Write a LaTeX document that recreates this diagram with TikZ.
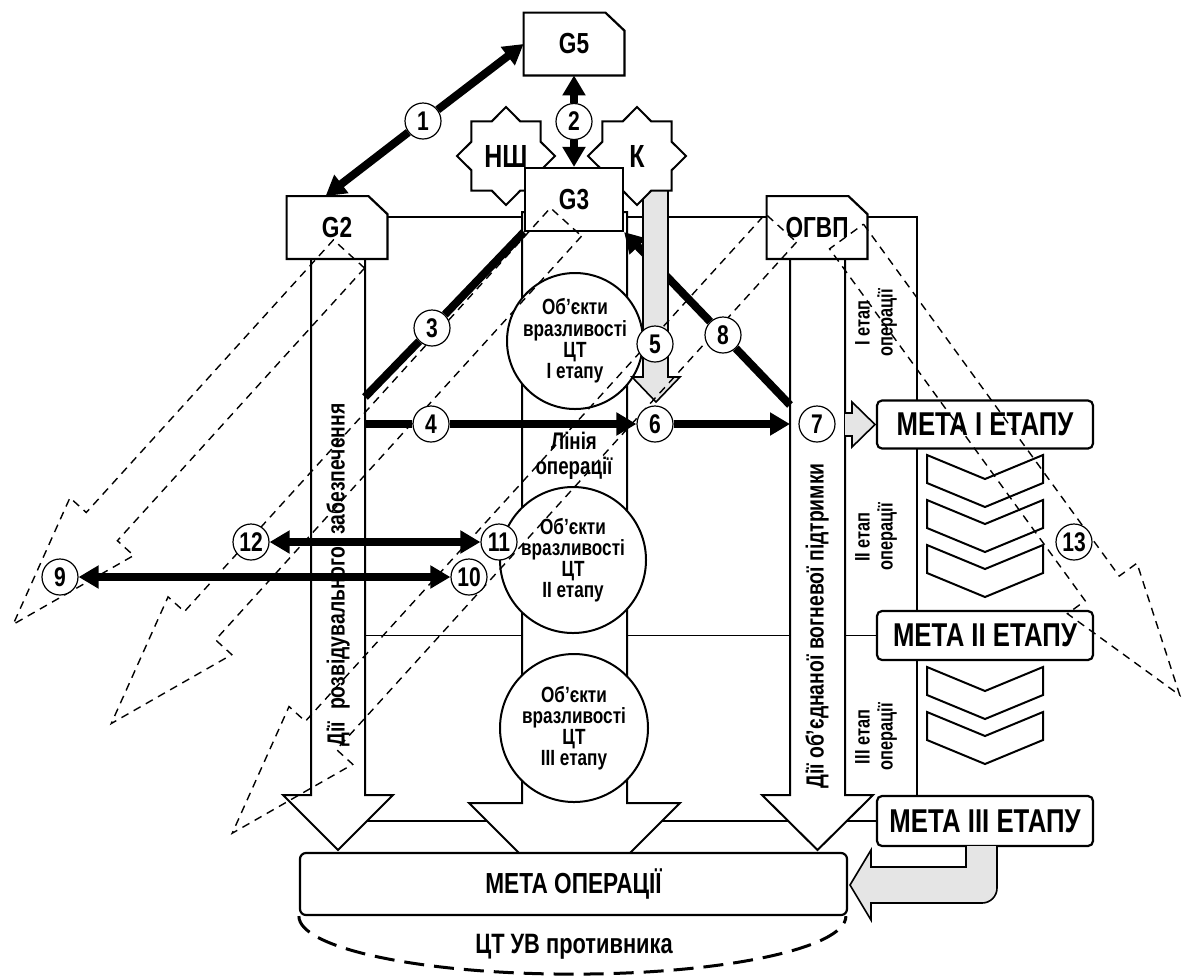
\documentclass[tikz,border=0pt]{standalone}
\usepackage{fontspec}
\setmainfont{Liberation Sans}[FakeStretch=0.78]
\usetikzlibrary{positioning,shapes,arrows.meta,calc}
\pgfdeclarelayer{back}
\pgfdeclarelayer{bolts}
\pgfdeclarelayer{front}
\pgfsetlayers{back,main,bolts,front}
% dashed block arrow: tail point, direction, shaft length
\newcommand*{\boltarrow}[3]{%
  \draw[boltline, shift={(#1)}, rotate=#2]
    (0,-21) -- (#3,-21) -- (#3,-43) -- ({#3+132},0) -- (#3,43) -- (#3,21) -- (0,21) -- cycle;}

\begin{document}
\begin{tikzpicture}[x=0.5pt, y=-0.5pt, font=\bfseries, >={Triangle[length=10pt,width=11pt]},
    thinline/.style={line width=0.8pt},
    cutbox/.style={minimum width=50pt, minimum height=31pt, inner sep=0pt, font=\fontsize{14.5}{16}\selectfont\bfseries},
    metabox/.style={draw, line width=1.1pt, rounded corners=2.5pt, fill=white, minimum width=108pt, minimum height=24pt, inner sep=0pt, font=\fontsize{16.5}{18}\selectfont\bfseries},
    objcircle/.style={circle, draw, line width=1pt, fill=white, align=center, inner sep=0pt, font=\fontsize{11}{10.6}\selectfont\bfseries},
    numc/.style={circle, draw, line width=0.6pt, fill=white, inner sep=0pt, minimum size=18pt, font=\fontsize{13.5}{14}\selectfont\bfseries},
    starbox/.style={star, star points=8, star point ratio=1.31, draw, line width=1pt, fill=white, minimum size=49pt, inner sep=0pt, font=\fontsize{16}{17}\selectfont\bfseries},
    blockarrow/.style={draw, line width=1pt, fill=white},
    greyarrow/.style={draw, line width=0.8pt, fill=black!10},
    thickarr/.style={line width=4pt},
    chev/.style={draw, line width=1pt},
    boltline/.style={line width=0.7pt, dash pattern=on 4pt off 3pt},
    sidelabel/.style={rotate=90, inner sep=0pt, font=\fontsize{12.4}{14}\selectfont\bfseries},
    stagelabel/.style={rotate=90, align=center, inner sep=0pt, font=\fontsize{10.5}{11.5}\selectfont\bfseries}]
    \useasboundingbox (0,0) rectangle (1182,976);

    % numbered marks, kept on top of everything
    \begin{pgfonlayer}{front}
    \node[numc] (n1) at (423,121) {1};
    \node[numc] (n2) at (574,121.5) {2};
    \node[numc] (n3) at (432,328) {3};
    \node[numc] (n4) at (431,424) {4};
    \node[numc] (n5) at (655,344) {5};
    \node[numc] (n6) at (655,424) {6};
    \node[numc] (n7) at (817,424) {7};
    \node[numc] (n8) at (723,335) {8};
    \node[numc] (n9) at (60,577) {9};
    \node[numc] (n10) at (469,577) {10};
    \node[numc] (n11) at (499,542) {11};
    \node[numc] (n12) at (251,542) {12};
    \node[numc] (n13) at (1074,542) {13};
    \end{pgfonlayer}

    % command posts
    \node[cutbox] (g5) at (574,44) {G5};
    \node[cutbox] (g2) at (337,227.5) {G2};
    \node[cutbox] (ogvp) at (817,227.5) {ОГВП};
    \foreach \b in {g5,g2,ogvp}
        \draw[line width=1.1pt] (\b.south west) -- (\b.north west) -- ([xshift=-9.5pt]\b.north east)
            -- ([yshift=-9pt]\b.north east) -- (\b.south east) -- cycle;
    \node[cutbox, draw, line width=1.1pt, fill=white, minimum width=49pt, minimum height=31.5pt] (g3) at (574,199.5) {G3};

    % goals
    \node[metabox] (meta1) at (985,424.5) {МЕТА І ЕТАПУ};
    \node[metabox, minimum height=24.5pt] (meta2) at (985,635.5) {МЕТА ІІ ЕТАПУ};
    \node[metabox, minimum height=25pt] (meta3) at (985,821) {МЕТА ІІІ ЕТАПУ};
    \node[metabox, minimum width=273.5pt, minimum height=31pt, rounded corners=3pt,
        font=\fontsize{14.5}{16}\selectfont\bfseries] (metaop) at (573.5,884) {МЕТА ОПЕРАЦІЇ};
    \draw[line width=1.5pt, dash pattern=on 10pt off 5pt] (metaop.south west)
        arc[start angle=180, end angle=360, x radius=136.75pt, y radius=29pt];
    \node[font=\fontsize{14}{15}\selectfont\bfseries] (ctuv) at (574,947) {ЦТ УВ противника};

    \coordinate (frametop) at (917,217);
    \coordinate (rozv-3) at (365,397);
    \coordinate (rozv-4) at (365,424);
    \coordinate (vohn-7) at (790,424);
    \coordinate (vohn-8) at (790,405);

    \begin{pgfonlayer}{back}
    \draw[thinline] (g2.east |- frametop) -- (ogvp.west |- frametop);
    \draw[thinline] (ogvp.east |- frametop) -- (frametop) -- (frametop |- meta3.north);
    \draw[thinline] (rozv-4 |- meta2.west) -- (meta2.west);
    \draw[thinline] (rozv-4 |- meta3.west) -- (meta3.west);

    % wide arrows of the three lines of action
    \draw[blockarrow] (311,259) -- (311,795) -- (283,795) -- (338,850) -- (393,795) -- (365,795) -- (365,259);
    \draw[blockarrow] (522,212) -- (522,803) -- (469,803) -- (574.5,908.5) -- (680,803) -- (627,803) -- (627,212) -- cycle;
    \draw[blockarrow] (790,259) -- (790,795) -- (762,795) -- (817.5,850) -- (873,795) -- (845,795) -- (845,259);
    \node[sidelabel] (rozv) at (338,575) {Дії\hspace{6pt}розвідувального\hspace{6pt}забезпечення};
    \node[sidelabel] (vohn) at (817,626) {Дії об’єднаної вогневої підтримки};

    \node[objcircle, minimum size=68pt] (obj1) at (575,341) {Об’єкти\\вразливості\\ЦТ\\І етапу};
    \node[objcircle, minimum size=73pt] (obj2) at (573,560) {Об’єкти\\вразливості\\ЦТ\\ІІ етапу};
    \node[objcircle, minimum size=74pt] (obj3) at (574,728) {Об’єкти\\вразливості\\ЦТ\\ІІІ етапу};
    \node[align=center, inner sep=0pt, font=\fontsize{12}{12.5}\selectfont\bfseries] (lineop) at (574,456) {Лінія\\операції};

    \draw[thickarr] (vohn-8) -- (n8);
    \draw[thickarr,->] (n8) -- (g3.south east);
    \draw[greyarrow] (643,190) -- (643,377) -- (632,377) -- (656,402) -- (680,377) -- (668,377) -- (668,190) -- cycle;
    \node[starbox] (nsh) at (506,156) {НШ};
    \node[starbox] (k) at (637,156) {К};
    \end{pgfonlayer}

    % links
    \draw[thickarr,->] (n1) -- (g5.west);
    \draw[thickarr,->] (n1) -- (g2.110);
    \draw[thickarr,->] (n2) -- (g5.south);
    \draw[thickarr,->] (n2) -- (g3.north);
    \draw[thickarr] (rozv-3) -- (n3);
    \draw[thickarr] (n3) -- (g3.south west);
    \draw[thickarr] (rozv-4) -- (n4);
    \draw[thickarr,->] (n4) -- (n6);
    \draw[thickarr,->] (n6) -- (vohn-7);
    \draw[thickarr,<->] (n12) -- (n11);
    \draw[thickarr,<->] (n9) -- (n10);

    \draw[greyarrow] (845,413) -- (852,413) -- (852,402) -- (875,424.5) -- (852,447) -- (852,436) -- (845,436);
    \draw[greyarrow] (966,846) -- (966,867) -- (871,867) -- (871,850) -- (850,885) -- (871,920) -- (871,903)
        -- (982,903) arc[start angle=-90, end angle=0, radius=7.5pt] -- (997,846);

    % stages
    \foreach \y in {455,500,545,667,712}
        \draw[chev] (927,\y) -- (985,\y+24) -- (1043,\y) -- (1043,\y+28) -- (985,\y+52) -- (927,\y+28) -- cycle;
    \node[stagelabel] (st1) at (876,323) {І етап\\операції};
    \node[stagelabel] (st2) at (876,537) {ІІ етап\\операції};
    \node[stagelabel] (st3) at (876,737) {ІІІ етап\\операції};

    % electronic strikes
    \begin{pgfonlayer}{bolts}
    \coordinate (g2tail) at (349,254);
    \coordinate (g3tail) at (566,222);
    \coordinate (ogvptail) at (781,228);
    \coordinate (ogvptail2) at (846.5,236.5);
    \boltarrow{g2tail}{227.8}{368}
    \boltarrow{g3tail}{227.8}{545}
    \boltarrow{ogvptail}{227.8}{685}
    \boltarrow{ogvptail2}{-54}{435}
    \end{pgfonlayer}
\end{tikzpicture}
\end{document}
